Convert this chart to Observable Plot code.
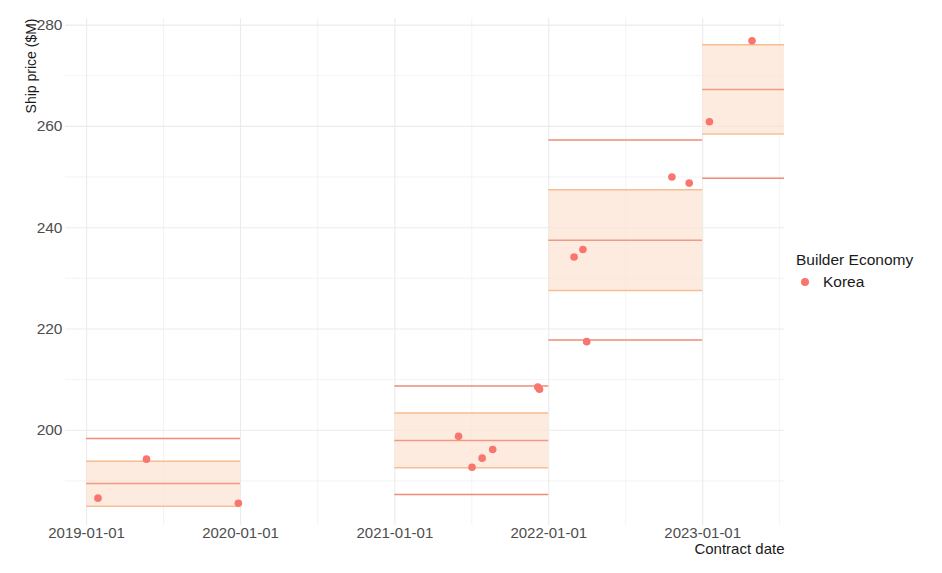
<!DOCTYPE html>
<html><head><meta charset="utf-8">
<script src="https://cdn.jsdelivr.net/npm/d3@7"></script>
<script src="https://cdn.jsdelivr.net/npm/@observablehq/plot@0.6"></script>
<style>
body{margin:0;background:#fff;font-family:"Liberation Sans",Arial,sans-serif}
#wrap{position:relative;width:942px;height:573px}
#wrap svg{position:absolute;left:0;top:0}
.lg{position:absolute;font-size:15.5px;color:#1a1a1a;line-height:18px;white-space:nowrap}
.dot{position:absolute;width:8px;height:8px;border-radius:50%;background:#F8766D}
</style></head><body>
<div id="wrap">
  <div class="lg" style="left:796px;top:251px">Builder Economy</div>
  <div class="dot" style="left:801px;top:278px"></div>
  <div class="lg" style="left:823px;top:273px">Korea</div>
</div>
<script>
// Korean-built ship contracts: contract date and price ($M)
const pointDates = ["2019-01-28","2019-05-23","2019-12-27","2021-06-01","2021-07-03","2021-07-27","2021-08-21","2021-12-06","2021-12-10","2022-03-02","2022-03-23","2022-04-01","2022-10-20","2022-11-30","2023-01-17","2023-04-28"];
const pointPrices = [186.6,194.3,185.6,198.8,192.7,194.5,196.2,208.55,208.1,234.2,235.7,217.5,250.0,248.8,260.9,276.9];

// Yearly bands: start/end, mean, ±1 sd band and ±2 sd lines
const bandStart = ["2019-01-01","2021-01-01","2022-01-01","2023-01-01"];
const bandEnd   = ["2020-01-01","2022-01-01","2023-01-01","2024-01-01"];
const bandLo2 = [180.6,187.3,217.8,249.75];
const bandLo1 = [185.0,192.6,227.6,258.5];
const bandMid = [189.5,198.0,237.5,267.3];
const bandHi1 = [193.9,203.4,247.5,276.1];
const bandHi2 = [198.4,208.75,257.3,284.9];

const xMajor = ["2019-01-01","2020-01-01","2021-01-01","2022-01-01","2023-01-01"];
const xMinor = ["2019-07-02T12:00","2020-07-02","2021-07-02T12:00","2022-07-02T12:00","2023-07-02T12:00"];
const yMajor = [200,220,240,260,280];
const yMinor = [190,210,230,250,270];

const xDomain = ["2018-11-12","2023-07-14"];
const yDomain = [181.2,281.3];

const D = s => new Date(s + (s.length === 10 ? "T00:00Z" : "Z"));
const points = pointDates.map((d,i) => ({date: D(d), price: pointPrices[i]}));
const bands = bandStart.map((s,i) => ({x1: D(s), x2: D(bandEnd[i]), lo2: bandLo2[i], lo1: bandLo1[i], mid: bandMid[i], hi1: bandHi1[i], hi2: bandHi2[i]}));

const grid = "#ebebeb";
const plot = Plot.plot({
  width: 942, height: 573,
  marginLeft: 65, marginRight: 158, marginTop: 18, marginBottom: 48,
  style: {fontFamily: "'Liberation Sans', Arial, sans-serif", background: "transparent"},
  x: {type: "utc", domain: xDomain.map(D)},
  y: {domain: yDomain},
  marks: [
    Plot.ruleX(xMinor.map(D), {stroke: grid, strokeWidth: 0.6}),
    Plot.ruleY(yMinor, {stroke: grid, strokeWidth: 0.6}),
    Plot.ruleX(xMajor.map(D), {stroke: grid, strokeWidth: 1.1}),
    Plot.ruleY(yMajor, {stroke: grid, strokeWidth: 1.1}),
    Plot.rect(bands, {x1: "x1", x2: "x2", y1: "lo1", y2: "hi1", fill: "#FDE2D2", fillOpacity: 0.7, clip: true}),
    Plot.ruleY(bands, {y: "lo1", x1: "x1", x2: "x2", stroke: "#F7BE93", strokeWidth: 1.5, clip: true}),
    Plot.ruleY(bands, {y: "hi1", x1: "x1", x2: "x2", stroke: "#F7BE93", strokeWidth: 1.5, clip: true}),
    Plot.ruleY(bands, {y: "mid", x1: "x1", x2: "x2", stroke: "#EE9A85", strokeWidth: 1.5, clip: true}),
    Plot.ruleY(bands, {y: "lo2", x1: "x1", x2: "x2", stroke: "#EE8C74", strokeWidth: 1.5, clip: true}),
    Plot.ruleY(bands, {y: "hi2", x1: "x1", x2: "x2", stroke: "#EE8C74", strokeWidth: 1.5, clip: true}),
    Plot.dot(points, {x: "date", y: "price", r: 3.8, fill: "#F8766D", stroke: "none"}),
    Plot.axisX(xMajor.map(D), {tickSize: 0, tickPadding: 2, fontSize: 15, fill: "#4d4d4d", tickFormat: d3.utcFormat("%Y-%m-%d"), label: null}),
    Plot.axisY(yMajor, {tickSize: 0, tickPadding: 3, fontSize: 15.5, fill: "#4d4d4d", label: null}),
    Plot.text(["Ship price ($M)"], {frameAnchor: "top-left", rotate: -90, textAnchor: "end", dx: -39, fontSize: 14, fill: "#1a1a1a"}),
    Plot.text(["Contract date"], {frameAnchor: "bottom-right", textAnchor: "end", dy: 28, fontSize: 15, fill: "#1a1a1a"})
  ]
});
document.getElementById("wrap").prepend(plot);
</script>
</body></html>
